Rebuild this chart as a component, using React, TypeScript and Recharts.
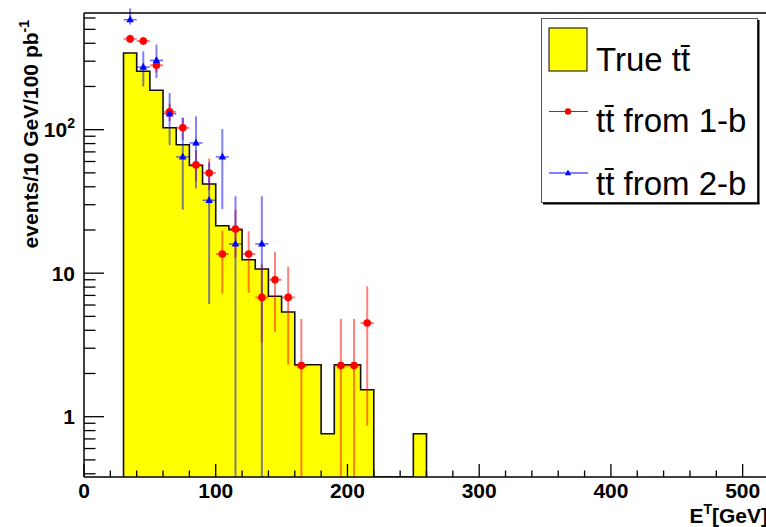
import React from "react";
import {
  ComposedChart, Area, Scatter, ErrorBar, XAxis, YAxis, ReferenceLine, Label, Legend,
} from "recharts";

// true ttbar histogram, 10 GeV bins (lower edges + last upper edge)
const binEdges = [30, 40, 50, 60, 70, 80, 90, 100, 110, 120, 130, 140, 150, 160, 170, 180, 190, 200, 210, 220, 230, 240, 250, 260];
const trueCounts = [342, 255, 188, 103, 78.5, 56.4, 41.8, 21.4, 20.1, 12.4, 10.7, 6.9, 5.37, 2.3, 2.3, 0.76, 2.3, 2.3, 1.54, 0, 0, 0, 0.76];

// ttbar from 1-b (red)
const redX = [35, 45, 55, 65, 75, 85, 95, 105, 115, 125, 135, 145, 155, 165, 195, 205, 215];
const redY = [429, 415, 281, 133, 103, 56.8, 49.9, 13.6, 20.3, 13.6, 6.78, 9.0, 6.78, 2.27, 2.27, 2.27, 4.5];
const redLo = [402, 388, 250, 115, 85, 44, 38, 7.2, 12.8, 7.3, 3.3, 3.9, 2.3, 0, 0, 0, 0.865];
const redHi = [458, 443, 316, 152, 121, 72, 63, 19.8, 27.7, 19.6, 11.5, 14.1, 11.1, 4.8, 4.8, 4.8, 8.1];

// ttbar from 2-b (blue)
const blueX = [35, 45, 55, 65, 75, 85, 95, 105, 115, 135];
const blueY = [584, 273, 304, 129, 64.6, 80.8, 32.2, 64.6, 16.0, 16.0];
const blueLo = [540, 200, 229, 78, 27.7, 39, 6.1, 28, 0, 0];
const blueHi = [700, 351, 391, 180, 121, 124, 59, 101, 34.3, 34.3];

const halfBin = 5;

const xTicks = [0, 20, 40, 60, 80, 100, 120, 140, 160, 180, 200, 220, 240, 260, 280, 300, 320, 340, 360, 380, 400, 420, 440, 460, 480, 500];
const xMajor = [0, 100, 200, 300, 400, 500];
const yTicks = [0.4, 0.5, 0.6, 0.7, 0.8, 0.9, 1, 2, 3, 4, 5, 6, 7, 8, 9, 10, 20, 30, 40, 50, 60, 70, 80, 90, 100, 200, 300, 400, 500, 600];
const yMajor = [1, 10, 100];

const legendLabels = ["True t", "t from 1-b", "t from 2-b"];

const X_MAX = 520;
const Y_MIN = 0.38;
const Y_MAX = 650;

const floorOf = (v: number) => (v > 0 ? v : Y_MIN);

const histData = [
  { x: binEdges[0], y: Y_MIN },
  ...trueCounts.map((c, i) => ({ x: binEdges[i], y: floorOf(c) })),
  { x: binEdges[binEdges.length - 1], y: Y_MIN },
];

const toPoints = (xs: number[], ys: number[], lo: number[], hi: number[]) =>
  xs.map((x, i) => ({ x, y: ys[i], ey: [ys[i] - floorOf(lo[i]), hi[i] - ys[i]], ex: halfBin }));

const redData = toPoints(redX, redY, redLo, redHi);
const blueData = toPoints(blueX, blueY, blueLo, blueHi);

const FONT = "'Liberation Sans', Arial, Helvetica, sans-serif";
const boldFont = { fontFamily: FONT, fontWeight: 700, fontSize: 21, fill: "#000" };

const XTick = ({ x, y, payload }: any) => {
  const major = xMajor.includes(payload.value);
  return (
    <g>
      <line x1={x} x2={x} y1={y} y2={y - (major ? 13 : 6.5)} stroke="#000" strokeWidth={1.3} />
      {major && (
        <text x={x} y={y + 21} textAnchor="middle" style={boldFont}>{payload.value}</text>
      )}
    </g>
  );
};

const YTick = ({ x, y, payload }: any) => {
  const v = payload.value;
  const major = yMajor.includes(v);
  const exp = Math.round(Math.log10(v));
  return (
    <g>
      <line x1={x} x2={x + (major ? 20 : 11.5)} y1={y} y2={y} stroke="#000" strokeWidth={1.3} />
      {major && (
        <text x={x - 9} y={y + 7.5} textAnchor="end" style={boldFont}>
          {exp < 2 ? v : <>10<tspan dy={-9} fontSize={14}>{exp}</tspan></>}
        </text>
      )}
    </g>
  );
};

const RedDot = ({ cx, cy }: any) => <circle cx={cx} cy={cy} r={3.8} fill="#ff0000" />;
const BlueTri = ({ cx, cy }: any) => (
  <path d={`M${cx},${cy - 4.2}L${cx - 3.8},${cy + 2.6}L${cx + 3.8},${cy + 2.6}Z`} fill="#0000ff" />
);

const legendText = { fontFamily: FONT, fontSize: 33, fill: "#000" };

const LegendBox = () => (
  <svg width={219} height={187} style={{ display: "block" }}>
    <rect x={0.5} y={0.5} width={216} height={184} fill="#fff" stroke="#555" />
    <line x1={217.5} y1={2} x2={217.5} y2={186} stroke="#000" strokeWidth={2} />
    <line x1={2} y1={185.5} x2={218.5} y2={185.5} stroke="#000" strokeWidth={2} />
    <rect x={8} y={10} width={38} height={43} fill="#ffff00" stroke="#000" />
    <text x={55} y={53} style={legendText}>{legendLabels[0]}t{"\u0304"}</text>
    <line x1={8} x2={47} y1={93.5} y2={93.5} stroke="#ff0000" strokeWidth={1.2} />
    <circle cx={27} cy={93.5} r={3.2} fill="#ff0000" />
    <text x={55} y={113.5} style={legendText}>t{legendLabels[1].slice(0, 1)}{"\u0304"}{legendLabels[1].slice(1)}</text>
    <line x1={8} x2={47} y1={155} y2={155} stroke="#0000ff" strokeWidth={1.2} />
    <path d="M27,151.5L23.8,157.2L30.2,157.2Z" fill="#0000ff" />
    <text x={55} y={176.5} style={legendText}>t{legendLabels[2].slice(0, 1)}{"\u0304"}{legendLabels[2].slice(1)}</text>
  </svg>
);

export default function App() {
  return (
    <div style={{ position: "absolute", left: 0, top: 0, width: 766, height: 527, overflow: "hidden", background: "#fff" }}>
      <ComposedChart width={770} height={527} margin={{ top: 13, right: 1, bottom: 0, left: 0 }}>
        <Area
          data={histData}
          dataKey="y"
          type="stepAfter"
          baseValue={Y_MIN}
          stroke="#111"
          strokeWidth={1.6}
          fill="#ffff00"
          fillOpacity={1}
          isAnimationActive={false}
        />
        <Scatter data={redData} shape={<RedDot />} isAnimationActive={false}>
          <ErrorBar dataKey="ey" direction="y" width={0} stroke="#ff0000" strokeOpacity={0.5} strokeWidth={2} />
          <ErrorBar dataKey="ex" direction="x" width={0} stroke="#ff0000" strokeOpacity={0.5} strokeWidth={2} />
        </Scatter>
        <Scatter data={blueData} shape={<BlueTri />} isAnimationActive={false}>
          <ErrorBar dataKey="ey" direction="y" width={0} stroke="#0000ff" strokeOpacity={0.5} strokeWidth={2} />
          <ErrorBar dataKey="ex" direction="x" width={0} stroke="#0000ff" strokeOpacity={0.6} strokeWidth={1.5} />
        </Scatter>
        <ReferenceLine y={Y_MAX} stroke="#000" strokeWidth={1.5} />
        <XAxis
          type="number"
          dataKey="x"
          domain={[0, X_MAX]}
          allowDataOverflow
          ticks={xTicks}
          interval={0}
          tick={<XTick />}
          tickLine={false}
          tickSize={0}
          tickMargin={0}
          height={50}
          axisLine={{ stroke: "#000", strokeWidth: 1.5 }}
        >
          <Label
            content={({ viewBox }: any) => (
              <text x={viewBox.x + viewBox.width - 1} y={viewBox.y + 45.5} textAnchor="end" style={boldFont}>
                E<tspan dy={-9} fontSize={14}>T</tspan><tspan dy={9}>[GeV]</tspan>
              </text>
            )}
          />
        </XAxis>
        <YAxis
          type="number"
          dataKey="y"
          scale="log"
          domain={[Y_MIN, Y_MAX]}
          allowDataOverflow
          ticks={yTicks}
          interval={0}
          tick={<YTick />}
          tickLine={false}
          tickSize={0}
          tickMargin={0}
          width={84}
          axisLine={{ stroke: "#000", strokeWidth: 1.5 }}
        >
          <Label
            content={({ viewBox }: any) => (
              <text transform={`translate(${viewBox.x + 38}, ${viewBox.y + 7}) rotate(-90)`} textAnchor="end" style={boldFont}>
                events/10 GeV/100 pb<tspan dy={-9} fontSize={14}>-1</tspan>
              </text>
            )}
          />
        </YAxis>
        <Legend
          layout="horizontal"
          verticalAlign="middle"
          align="center"
          wrapperStyle={{ left: 541, top: 18, width: 219, height: 187 }}
          content={() => <LegendBox />}
        />
      </ComposedChart>
    </div>
  );
}
